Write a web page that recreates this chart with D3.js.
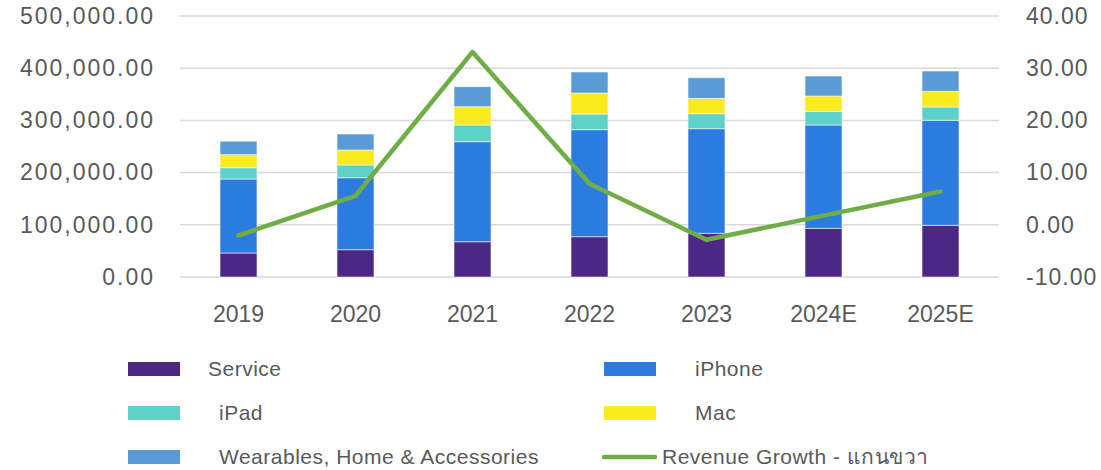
<!DOCTYPE html>
<html>
<head>
<meta charset="utf-8">
<script src="https://cdn.jsdelivr.net/npm/d3@7"></script>
<style>
  body { margin: 0; background: #fff; }
  text { font-family: "Liberation Sans", "Noto Sans", Arial, sans-serif; fill: #595959; }
</style>
</head>
<body>
<script>
// values (millions USD and % growth)
const years = ["2019", "2020", "2021", "2022", "2023", "2024E", "2025E"];
const service = [46.0, 52.3, 67.6, 77.2, 83.7, 93.2, 99.0].map(v => v * 1000);
const iphone = [141.7, 137.9, 191.7, 205.0, 200.4, 198.0, 201.2].map(v => v * 1000);
const ipad = [21.7, 24.4, 31.9, 30.1, 28.7, 26.2, 25.5].map(v => v * 1000);
const mac = [25.0, 28.7, 35.1, 40.2, 29.5, 29.3, 30.0].map(v => v * 1000);
const wearables = [25.7, 30.7, 38.3, 40.2, 39.5, 38.3, 38.9].map(v => v * 1000);
const growth = [-2.05, 5.56, 33.1, 7.85, -2.87, 1.76, 6.38];

const seriesKeys = ["Service", "iPhone", "iPad", "Mac", "Wearables, Home & Accessories"];
const seriesVals = [service, iphone, ipad, mac, wearables];
const colors = ["#4B2884", "#2B7CDE", "#5ED1CB", "#F9EB1E", "#5B9BD5"];
const lineColor = "#70AD47";

const leftTicks = [0, 100000, 200000, 300000, 400000, 500000];
const rightTicks = [-10, 0, 10, 20, 30, 40];

const width = 1101, height = 470;
const svg = d3.select("body").append("svg")
  .attr("width", width)
  .attr("height", height);

const x = d3.scaleBand().domain(years).range([180, 999])
  .paddingInner(0.684).paddingOuter(0.342);
const yL = d3.scaleLinear().domain([0, 500000]).range([277, 16]);
const yR = d3.scaleLinear().domain([-10, 40]).range([277, 16]);

// gridlines
svg.append("g")
  .selectAll("line")
  .data(leftTicks)
  .join("line")
  .attr("x1", 180).attr("x2", 999)
  .attr("y1", d => yL(d)).attr("y2", d => yL(d))
  .attr("stroke", "#d9d9d9")
  .attr("stroke-width", 1.5);

// left axis
const fmtL = d3.format(",.2f");
const axL = svg.append("g")
  .attr("transform", "translate(155,0)")
  .call(d3.axisLeft(yL).tickValues(leftTicks).tickFormat(fmtL).tickSize(0).tickPadding(0));
axL.select(".domain").remove();
axL.selectAll("text").attr("font-size", 23).attr("letter-spacing", 2).style("fill", "#595959");

// right axis (plain hyphen for negatives, like the original)
const fmtR = d => d3.format(".2f")(d).replace("\u2212", "-");
const axR = svg.append("g")
  .attr("transform", "translate(1026,0)")
  .call(d3.axisRight(yR).tickValues(rightTicks).tickFormat(fmtR).tickSize(0).tickPadding(0));
axR.select(".domain").remove();
axR.selectAll("text").attr("font-size", 23).attr("letter-spacing", 1).style("fill", "#595959");

// x axis labels
const axX = svg.append("g")
  .attr("transform", "translate(0,300)")
  .call(d3.axisBottom(x).tickSize(0).tickPadding(0));
axX.select(".domain").remove();
axX.selectAll("text").attr("font-size", 23).attr("dy", "0.95em").style("fill", "#595959");

// stacked bars
const table = years.map((y, i) => {
  const row = { year: y };
  seriesKeys.forEach((k, j) => row[k] = seriesVals[j][i]);
  return row;
});
const stacked = d3.stack().keys(seriesKeys)(table);

svg.append("g")
  .selectAll("g")
  .data(stacked)
  .join("g")
  .attr("fill", (d, i) => colors[i])
  .selectAll("rect")
  .data(d => d)
  .join("rect")
  .attr("x", d => x(d.data.year))
  .attr("width", x.bandwidth())
  .attr("y", d => yL(d[1]))
  .attr("height", d => yL(d[0]) - yL(d[1]))
  .attr("stroke", "rgba(255,255,255,0.55)")
  .attr("stroke-width", 1);

// growth line
const line = d3.line()
  .x((d, i) => x(years[i]) + x.bandwidth() / 2)
  .y(d => yR(d));

svg.append("path")
  .datum(growth)
  .attr("fill", "none")
  .attr("stroke", lineColor)
  .attr("stroke-width", 4.5)
  .attr("stroke-linejoin", "round")
  .attr("stroke-linecap", "round")
  .attr("d", line);

// legend
const legendItems = [
  { label: "Service", color: colors[0], sx: 128, tx: 208, y: 369 },
  { label: "iPhone", color: colors[1], sx: 604, tx: 695, y: 369 },
  { label: "iPad", color: colors[2], sx: 128, tx: 219, y: 413 },
  { label: "Mac", color: colors[3], sx: 604, tx: 695, y: 413 },
  { label: "Wearables, Home & Accessories", color: colors[4], sx: 128, tx: 219, y: 457 },
  { label: "Revenue Growth - แกนขวา", color: lineColor, sx: 602, tx: 662, y: 457, line: true }
];

const lg = svg.append("g")
  .selectAll("g")
  .data(legendItems)
  .join("g");

lg.filter(d => !d.line).append("rect")
  .attr("x", d => d.sx)
  .attr("y", d => d.y - 7)
  .attr("width", 52)
  .attr("height", 14)
  .attr("fill", d => d.color);

lg.filter(d => d.line).append("line")
  .attr("x1", d => d.sx + 2).attr("x2", d => d.sx + 53)
  .attr("y1", d => d.y).attr("y2", d => d.y)
  .attr("stroke", d => d.color)
  .attr("stroke-width", 4.5)
  .attr("stroke-linecap", "round");

lg.append("text")
  .attr("x", d => d.tx)
  .attr("y", d => d.y)
  .attr("dy", "0.35em")
  .attr("font-size", 21)
  .attr("letter-spacing", 0.5)
  .text(d => d.label);
</script>
</body>
</html>
